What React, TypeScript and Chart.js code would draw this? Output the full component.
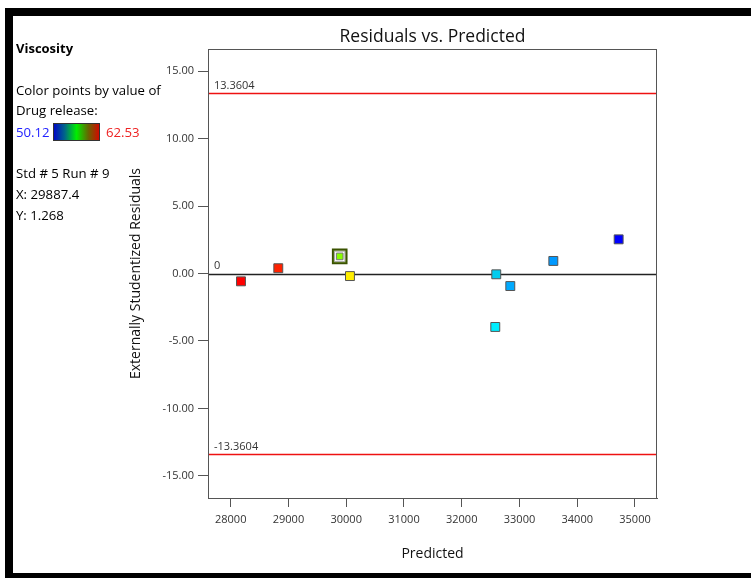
import React, { useEffect, useRef } from "react";
import { Chart, registerables } from "chart.js";

Chart.register(...registerables);

const predicted = [28178, 28824, 29887.4, 30065, 32598, 32841, 32581, 33586, 34717];
const residuals = [-0.58, 0.39, 1.268, -0.19, -0.06, -0.93, -3.96, 0.93, 2.53];
const pointColors = ["#ff0000", "#ff2200", "#88ff00", "#ffee00", "#00ccee", "#00aaff", "#00eeff", "#0099ff", "#0000ff"];
const selectedIndex = 2;
const limitValue = 13.3604;
const xTicks = [28000, 29000, 30000, 31000, 32000, 33000, 34000, 35000];
const yTicks = [-15, -10, -5, 0, 5, 10, 15];
const xRange = [27607, 35381];
const yRange = [-16.63, 16.63];
const legendLow = "50.12";
const legendHigh = "62.53";

const FONT = "'Open Sans', 'Noto Sans', sans-serif";

const decorPlugin = {
  id: "decor",
  beforeDraw(chart: any) {
    const ctx = chart.ctx;
    ctx.save();
    ctx.fillStyle = "#ffffff";
    ctx.fillRect(0, 0, chart.width, chart.height);
    ctx.restore();
  },
  beforeDatasetsDraw(chart: any) {
    const ctx = chart.ctx;
    const a = chart.chartArea;
    const y = chart.scales.y;
    ctx.save();
    ctx.beginPath();
    ctx.rect(a.left, a.top, a.right - a.left, a.bottom - a.top);
    ctx.clip();
    ctx.lineWidth = 1.5;
    ctx.strokeStyle = "#ee1111";
    [limitValue, -limitValue].forEach((v) => {
      const py = Math.round(y.getPixelForValue(v)) + 0.5;
      ctx.beginPath();
      ctx.moveTo(a.left, py);
      ctx.lineTo(a.right, py);
      ctx.stroke();
    });
    ctx.strokeStyle = "#222222";
    const zy = Math.round(y.getPixelForValue(0)) + 0.5;
    ctx.beginPath();
    ctx.moveTo(a.left, zy);
    ctx.lineTo(a.right, zy);
    ctx.stroke();
    ctx.restore();

    ctx.save();
    ctx.font = `11px ${FONT}`;
    ctx.fillStyle = "#333333";
    ctx.textAlign = "left";
    ctx.textBaseline = "alphabetic";
    ctx.fillText(String(limitValue), a.left + 6, y.getPixelForValue(limitValue) - 4);
    ctx.fillText(String(-limitValue), a.left + 6, y.getPixelForValue(-limitValue) - 4);
    ctx.fillText("0", a.left + 6, y.getPixelForValue(0) - 5);
    ctx.restore();
  },
  afterDraw(chart: any) {
    const ctx = chart.ctx;
    const a = chart.chartArea;
    ctx.save();
    ctx.strokeStyle = "#555555";
    ctx.lineWidth = 1;
    ctx.strokeRect(a.left + 0.5, a.top + 0.5, a.right - a.left - 1, a.bottom - a.top);

    ctx.fillStyle = "#000000";
    ctx.fillRect(5, 8, chart.width - 5, 8);
    ctx.fillRect(5, 8, 8, chart.height - 8);
    ctx.fillRect(5, 573, chart.width - 5, 5);

    const cx = (a.left + a.right) / 2;
    ctx.fillStyle = "#111111";
    ctx.textAlign = "center";
    ctx.textBaseline = "alphabetic";
    ctx.font = `17.5px ${FONT}`;
    ctx.fillText("Residuals vs. Predicted", cx, 42);
    ctx.font = `14px ${FONT}`;
    ctx.fillText("Predicted", cx, 558);
    ctx.save();
    ctx.translate(140, (a.top + a.bottom) / 2);
    ctx.rotate(-Math.PI / 2);
    ctx.fillText("Externally Studentized Residuals", 0, 0);
    ctx.restore();

    ctx.textAlign = "left";
    ctx.font = `bold 13px ${FONT}`;
    ctx.fillStyle = "#000000";
    ctx.fillText("Viscosity", 16, 53);
    ctx.font = `13.2px ${FONT}`;
    ctx.fillText("Color points by value of", 16, 95);
    ctx.fillText("Drug release:", 16, 115);
    ctx.fillStyle = "#2222ff";
    ctx.fillText(legendLow, 16, 137);
    const g = ctx.createLinearGradient(53, 0, 100, 0);
    g.addColorStop(0, "#0000cc");
    g.addColorStop(0.25, "#006688");
    g.addColorStop(0.5, "#00ee00");
    g.addColorStop(0.75, "#666600");
    g.addColorStop(1, "#dd0000");
    ctx.fillStyle = g;
    ctx.fillRect(53, 123, 47, 18);
    ctx.strokeStyle = "#333333";
    ctx.lineWidth = 1;
    ctx.strokeRect(53.5, 123.5, 46, 17);
    ctx.fillStyle = "#ee2222";
    ctx.fillText(legendHigh, 106, 137);
    ctx.fillStyle = "#000000";
    ctx.fillText("Std # 5 Run # 9", 16, 178);
    ctx.fillText("X: " + predicted[selectedIndex], 16, 199);
    ctx.fillText("Y: " + residuals[selectedIndex].toFixed(3), 16, 220);
    ctx.restore();
  },
};

export default function App() {
  const ref = useRef<HTMLCanvasElement | null>(null);
  useEffect(() => {
    if (!ref.current) return;
    const pts = predicted.map((x, i) => ({ x, y: residuals[i] }));
    const sel = [{ x: predicted[selectedIndex], y: residuals[selectedIndex] }];
    const chart = new Chart(ref.current, {
      type: "scatter",
      data: {
        datasets: [
          {
            data: sel,
            pointStyle: "rect",
            pointRadius: 4.7,
            backgroundColor: "#88ff00",
            borderColor: "#777777",
            borderWidth: 1,
          },
          {
            data: sel,
            pointStyle: "rect",
            pointRadius: 7.4,
            backgroundColor: "#ffffff",
            borderColor: "#aaaaaa",
            borderWidth: 1,
          },
          {
            data: sel,
            pointStyle: "rect",
            pointRadius: 10,
            backgroundColor: "#587814",
            borderColor: "#3a5200",
            borderWidth: 1.5,
          },
          {
            data: pts,
            pointStyle: "rect",
            pointRadius: 6.3,
            backgroundColor: pointColors,
            borderColor: "#555555",
            borderWidth: 1,
          },
        ],
      },
      plugins: [decorPlugin],
      options: {
        animation: false,
        responsive: false,
        events: [],
        layout: { padding: { left: 0, top: 49, right: 94, bottom: 0 } },
        plugins: { legend: { display: false }, tooltip: { enabled: false }, title: { display: false } },
        scales: {
          x: {
            type: "linear",
            min: xRange[0],
            max: xRange[1],
            afterBuildTicks: (s: any) => {
              s.ticks = xTicks.map((v) => ({ value: v }));
            },
            afterFit: (s: any) => {
              s.height = 80;
            },
            grid: { drawOnChartArea: false, drawTicks: true, tickLength: 9, color: "#555555" },
            border: { display: true, color: "#555555" },
            ticks: {
              padding: 6,
              color: "#333333",
              font: { family: FONT, size: 11 },
              maxRotation: 0,
              autoSkip: false,
              callback: (v: any) => String(v),
            },
          },
          y: {
            type: "linear",
            min: yRange[0],
            max: yRange[1],
            afterBuildTicks: (s: any) => {
              s.ticks = yTicks.map((v) => ({ value: v }));
            },
            afterFit: (s: any) => {
              s.width = 208;
            },
            grid: { drawOnChartArea: false, drawTicks: true, tickLength: 10, color: "#555555" },
            border: { display: true, color: "#555555" },
            ticks: {
              padding: 4,
              color: "#333333",
              font: { family: FONT, size: 11 },
              autoSkip: false,
              callback: (v: any) => Number(v).toFixed(2),
            },
          },
        },
      },
    } as any);
    return () => chart.destroy();
  }, []);
  return (
    <div style={{ position: "fixed", left: 0, top: 0, width: 751, height: 578 }}>
      <canvas ref={ref} width={751} height={578} style={{ display: "block", width: 751, height: 578 }} />
    </div>
  );
}
